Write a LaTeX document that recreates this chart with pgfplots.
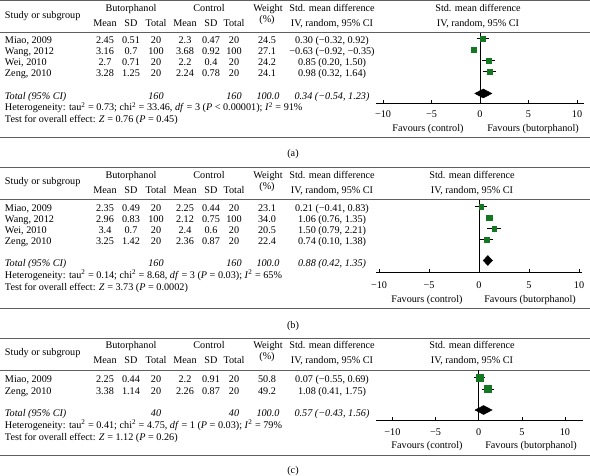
\documentclass[border=0pt]{standalone}
\usepackage{fontspec}
\setmainfont{Liberation Serif}
\usepackage{pgfplots}
\pgfplotsset{compat=1.18}
\definecolor{mygreen}{RGB}{20,120,35}
\definecolor{rulegray}{RGB}{95,95,95}
\newcommand\fs{\fontsize{10.2}{12}\selectfont}
\newcommand\row[9]{%
 \node[anchor=base west] at (5,#1) {#2};
 \node[anchor=base] at (105,#1) {#3};
 \node[anchor=base] at (131,#1) {#4};
 \node[anchor=base] at (156,#1) {#5};
 \node[anchor=base] at (185,#1) {#6};
 \node[anchor=base] at (211,#1) {#7};
 \node[anchor=base] at (234,#1) {#8};
 \node[anchor=base] at (267,#1) {#9};
}
\newcommand\smd[2]{\node[anchor=base] at (332,#1) {#2};}
\newcommand\hdr[2]{%
 \draw[rulegray,line width=0.9pt] (0,#1) -- (590,#1);
 \node[anchor=base] at (131,#1+10.5) {Butorphanol};
 \node[anchor=base] at (209,#1+10.5) {Control};
 \node[anchor=base] at (268,#1+10.5) {Weight};
 \node[anchor=base] at (332,#1+10.5) {Std. mean difference};
 \node[anchor=base] at (#2,#1+10.5) {Std. mean difference};
 \node[anchor=base west] at (5,#1+17.3) {Study or subgroup};
 \node[anchor=base] at (105,#1+25.5) {Mean};
 \node[anchor=base] at (131,#1+25.5) {SD};
 \node[anchor=base] at (156,#1+25.5) {Total};
 \node[anchor=base] at (185,#1+25.5) {Mean};
 \node[anchor=base] at (211,#1+25.5) {SD};
 \node[anchor=base] at (234,#1+25.5) {Total};
 \node[anchor=base] at (267,#1+21.5) {(\%)};
 \node[anchor=base] at (332,#1+25.5) {IV, random, 95\% CI};
 \node[anchor=base] at (#2,#1+25.5) {IV, random, 95\% CI};
 \draw[rulegray,line width=0.6pt] (0,#1+32) -- (590,#1+32);
}
\newcommand\totrow[5]{%
 \node[anchor=base west] at (5,#1) {\itshape Total (95\% CI)};
 \node[anchor=base] at (156,#1) {\itshape #2};
 \node[anchor=base] at (234,#1) {\itshape #3};
 \node[anchor=base] at (268,#1) {\itshape #4};
 \node[anchor=base] at (332,#1) {\itshape #5};
}
\newcommand\fav[3]{%
 \node[anchor=base] at (#2,#1) {Favours (control)};
 \node[anchor=base] at (#3,#1) {Favours (butorphanol)};
}
\pgfplotsset{fp/.style={scale only axis, anchor=south west, clip=false,
  axis x line*=bottom, axis y line=none,
  axis line style={-, line width=0.6pt, black},
  xtick={-10,-5,0,5,10}, xticklabels={−10,−5,0,5,10},
  tick align=inside, major tick length=3pt,
  every tick/.style={black, line width=0.6pt},
  every tick label/.append style={font=\fs},
  ytick=\empty}}
\begin{document}
\fs
\begin{tikzpicture}[x=1pt,y=-1pt, every node/.style={inner sep=0pt, outer sep=0pt, font=\fs}]
\useasboundingbox (0,0) rectangle (590,475);
% ---------------- panel (a)
\hdr{0.7}{478}
\row{43.5}{Miao, 2009}{2.45}{0.51}{20}{2.3}{0.47}{20}{24.5}
\row{54.5}{Wang, 2012}{3.16}{0.7}{100}{3.68}{0.92}{100}{27.1}
\row{65.5}{Wei, 2010}{2.7}{0.71}{20}{2.2}{0.4}{20}{24.2}
\row{76.5}{Zeng, 2010}{3.28}{1.25}{20}{2.24}{0.78}{20}{24.1}
\smd{43.5}{0.30 (−0.32, 0.92)}
\smd{54.5}{−0.63 (−0.92, −0.35)}
\smd{65.5}{0.85 (0.20, 1.50)}
\smd{76.5}{0.98 (0.32, 1.64)}
\totrow{99}{160}{160}{100.0}{0.34 (−0.54, 1.23)}
\node[anchor=base west] at (5,110.7) {Heterogeneity: tau\textsuperscript{2} = 0.73; chi\textsuperscript{2} = 33.46, \textit{df} = 3 (\textit{P} < 0.00001); \textit{I}\textsuperscript{2} = 91\%};
\node[anchor=base west] at (5,122) {Test for overall effect: \textit{Z} = 0.76 (\textit{P} = 0.45)};
\fav{131.3}{428}{533}
\draw[rulegray,line width=0.9pt] (0,137) -- (590,137);
\node[anchor=base] at (293,156.5) {(a)};
\coordinate (PA) at (376,103);
\begin{axis}[fp, at={(PA)}, width=208pt, height=70.5pt,
  xmin=-10.72, xmax=10.72, ymin=-103, ymax=-32.7,
  xticklabel style={anchor=base, yshift=-14pt}]
\addplot[black, line width=0.6pt] coordinates {(0,-32.7) (0,-103)};
\addplot[black, line width=0.6pt] coordinates {(-0.32,-38.5) (0.92,-38.5)};
\addplot[black, line width=0.6pt] coordinates {(-0.92,-49.5) (-0.35,-49.5)};
\addplot[black, line width=0.6pt] coordinates {(0.20,-60.5) (1.50,-60.5)};
\addplot[black, line width=0.6pt] coordinates {(0.32,-71.5) (1.64,-71.5)};
\addplot[mygreen, only marks, mark=square*, mark size=2.47pt] coordinates {(0.30,-38.5)};
\addplot[mygreen, only marks, mark=square*, mark size=2.6pt] coordinates {(-0.63,-49.5)};
\addplot[mygreen, only marks, mark=square*, mark size=2.46pt] coordinates {(0.85,-60.5)};
\addplot[mygreen, only marks, mark=square*, mark size=2.45pt] coordinates {(0.98,-71.5)};
\addplot[black, fill=black] coordinates {(-0.54,-93.5) (0.34,-89) (1.23,-93.5) (0.34,-98)} -- cycle;
\end{axis}
% ---------------- panel (b)
\hdr{167.5}{472}
\row{211.7}{Miao, 2009}{2.35}{0.49}{20}{2.25}{0.44}{20}{23.1}
\row{222.7}{Wang, 2012}{2.96}{0.83}{100}{2.12}{0.75}{100}{34.0}
\row{233.7}{Wei, 2010}{3.4}{0.7}{20}{2.4}{0.6}{20}{20.5}
\row{244.7}{Zeng, 2010}{3.25}{1.42}{20}{2.36}{0.87}{20}{22.4}
\smd{211.7}{0.21 (−0.41, 0.83)}
\smd{222.7}{1.06 (0.76, 1.35)}
\smd{233.7}{1.50 (0.79, 2.21)}
\smd{244.7}{0.74 (0.10, 1.38)}
\totrow{266.7}{160}{160}{100.0}{0.88 (0.42, 1.35)}
\node[anchor=base west] at (5,278.3) {Heterogeneity: tau\textsuperscript{2} = 0.14; chi\textsuperscript{2} = 8.68, \textit{df} = 3 (\textit{P} = 0.03); \textit{I}\textsuperscript{2} = 65\%};
\node[anchor=base west] at (5,290) {Test for overall effect: \textit{Z} = 3.73 (\textit{P} = 0.0002)};
\fav{302.3}{427}{530}
\draw[rulegray,line width=0.9pt] (0,308.5) -- (590,308.5);
\node[anchor=base] at (293,328) {(b)};
\coordinate (PB) at (376,272);
\begin{axis}[fp, at={(PB)}, width=206pt, height=72.5pt,
  xmin=-10.3, xmax=10.3, ymin=-272, ymax=-199.5,
  xticklabel style={anchor=base, yshift=-16pt}]
\addplot[black, line width=0.6pt] coordinates {(0,-199.5) (0,-272)};
\addplot[black, line width=0.6pt] coordinates {(-0.41,-206.7) (0.83,-206.7)};
\addplot[black, line width=0.6pt] coordinates {(0.76,-217.7) (1.35,-217.7)};
\addplot[black, line width=0.6pt] coordinates {(0.79,-228.7) (2.21,-228.7)};
\addplot[black, line width=0.6pt] coordinates {(0.10,-239.7) (1.38,-239.7)};
\addplot[mygreen, only marks, mark=square*, mark size=2.4pt] coordinates {(0.21,-206.7)};
\addplot[mygreen, only marks, mark=square*, mark size=2.92pt] coordinates {(1.06,-217.7)};
\addplot[mygreen, only marks, mark=square*, mark size=2.26pt] coordinates {(1.50,-228.7)};
\addplot[mygreen, only marks, mark=square*, mark size=2.37pt] coordinates {(0.74,-239.7)};
\addplot[black, fill=black] coordinates {(0.42,-260.5) (0.88,-255.5) (1.35,-260.5) (0.88,-265.5)} -- cycle;
\end{axis}
% ---------------- panel (c)
\hdr{338}{472}
\row{382.5}{Miao, 2009}{2.25}{0.44}{20}{2.2}{0.91}{20}{50.8}
\row{394}{Zeng, 2010}{3.38}{1.14}{20}{2.26}{0.87}{20}{49.2}
\smd{382.5}{0.07 (−0.55, 0.69)}
\smd{394}{1.08 (0.41, 1.75)}
\totrow{416.5}{40}{40}{100.0}{0.57 (−0.43, 1.56)}
\node[anchor=base west] at (5,428) {Heterogeneity: tau\textsuperscript{2} = 0.41; chi\textsuperscript{2} = 4.75, \textit{df} = 1 (\textit{P} = 0.03); \textit{I}\textsuperscript{2} = 79\%};
\node[anchor=base west] at (5,440) {Test for overall effect: \textit{Z} = 1.12 (\textit{P} = 0.26)};
\fav{448.5}{427}{531}
\draw[rulegray,line width=0.9pt] (0,455) -- (590,455);
\node[anchor=base] at (293,473.5) {(c)};
\coordinate (PC) at (376,420);
\begin{axis}[fp, at={(PC)}, width=207pt, height=50pt,
  xmin=-11.9, xmax=12.09, ymin=-420, ymax=-370,
  xticklabel style={anchor=base, yshift=-15pt}]
\addplot[black, line width=0.6pt] coordinates {(0,-370) (0,-420)};
\addplot[black, line width=0.6pt] coordinates {(-0.55,-377.5) (0.69,-377.5)};
\addplot[black, line width=0.6pt] coordinates {(0.41,-389) (1.75,-389)};
\addplot[mygreen, only marks, mark=square*, mark size=3.56pt] coordinates {(0.07,-377.5)};
\addplot[mygreen, only marks, mark=square*, mark size=3.5pt] coordinates {(1.08,-389)};
\addplot[black, fill=black] coordinates {(-0.43,-410) (0.57,-405.5) (1.56,-410) (0.57,-414.5)} -- cycle;
\end{axis}
\end{tikzpicture}
\end{document}
